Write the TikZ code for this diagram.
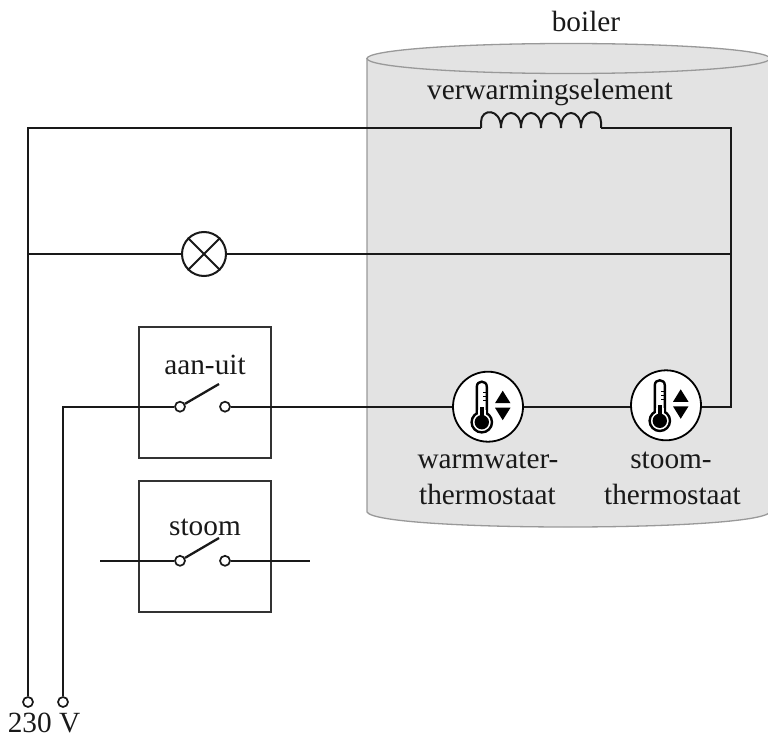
\documentclass[tikz,border=0pt]{standalone}
\usepackage{fontspec}
\setmainfont{Liberation Serif}
\tikzset{
  wire/.style={draw=black!90,line width=2.3pt,line join=miter},
  boilerbody/.style={draw=black!40,line width=1.3pt,fill=black!11},
  panel/.style={draw=black!80,line width=1.7pt,fill=none},
  terminal/.style={circle,draw=black!90,line width=1.7pt,fill=white,minimum size=10pt,inner sep=0pt},
  lampnode/.style={circle,draw=black!90,line width=2pt,fill=white,minimum size=44pt,inner sep=0pt},
  thermonode/.style={circle,draw=black,line width=1.8pt,fill=white,minimum size=70pt,inner sep=0pt},
  label/.style={font=\fontsize{29.3}{35}\selectfont,inner sep=0pt,align=center,text=black!90},
}
\begin{document}
\begin{tikzpicture}[x=1pt,y=-1pt]
\useasboundingbox (0,0) rectangle (768,738);
% boiler
\begin{scope}
\clip (0,0) rectangle (768,738);
\path[boilerbody] (367,58.5) -- (367,512) .. controls (372,522) and (470,527) .. (568,527) .. controls (666,527) and (764,522) .. (770,512) -- (770,58.5) -- cycle;
\path[boilerbody] (568.5,58.5) ellipse[x radius=201.5,y radius=15];
\end{scope}
% panels
\node[panel,minimum width=132pt,minimum height=131pt,inner sep=0pt] (boxA) at (205,392.5) {};
\node[panel,minimum width=132pt,minimum height=131pt,inner sep=0pt] (boxB) at (205,546.5) {};
% named points
\coordinate (tlc) at (28,128);
\coordinate (trc) at (731,128);
\coordinate (mlc) at (28,254);
\coordinate (mrc) at (731,254);
\coordinate (brc) at (731,406.7);
\coordinate (swc) at (63,406.7);
\coordinate (coilL) at (481,128);
\coordinate (coilR) at (601,128);
\coordinate (bladeA) at (219,384);
\coordinate (bladeB) at (219,538);
\coordinate (stoomL) at (100,560.8);
\coordinate (stoomR) at (310,560.8);
% nodes
\node[terminal] (supL) at (28,702) {};
\node[terminal] (supR) at (63,702) {};
\node[terminal] (a1) at (180,406.7) {};
\node[terminal] (a2) at (225,406.7) {};
\node[terminal] (b1) at (180,560.8) {};
\node[terminal] (b2) at (225,560.8) {};
\node[lampnode] (lamp) at (204,254) {};
\node[thermonode] (t1) at (488,406.7) {};
\node[thermonode] (t2) at (666,405.3) {};
% wires
\draw[wire] (supL) -- (tlc) -- (coilL);
\draw[wire] (coilR) -- (trc) -- (brc) -- (brc -| t2.east);
\draw[wire] (mlc) -- (lamp);
\draw[wire] (lamp) -- (mrc);
\draw[wire] (supR) -- (swc) -- (a1);
\draw[wire] (a2) -- (t1);
\draw[wire] (t1) -- (t1 -| t2.west);
\draw[wire] (stoomL) -- (b1);
\draw[wire] (b2) -- (stoomR);
\draw[wire] (a1) -- (bladeA);
\draw[wire] (b1) -- (bladeB);
% coil
\draw[wire,line width=2pt] (coilL) -- (481,122)
  .. controls (481,108) and (501,108) .. (501,128)
  .. controls (501,108) and (521,108) .. (521,128)
  .. controls (521,108) and (541,108) .. (541,128)
  .. controls (541,108) and (561,108) .. (561,128)
  .. controls (561,108) and (581,108) .. (581,128)
  .. controls (581,108) and (601,108) .. (601,122) -- (coilR);
% lamp cross
\draw[black!90,line width=1.9pt] (lamp.45) -- (lamp.225) (lamp.135) -- (lamp.315);
% thermostat icons
\foreach \n in {t1,t2}{
  \begin{scope}[shift={(\n.center)}]
    \draw[black,line width=2.4pt,fill=white] (-11.2,6) -- (-11.2,-20) .. controls (-11.2,-26.7) and (-1.2,-26.7) .. (-1.2,-20) -- (-1.2,6) -- cycle;
    \draw[black,line width=2.4pt,fill=white] (-6.2,15.5) circle[radius=10.2];
    \fill[white] (-10,3) rectangle (-2.4,9);
    \fill[black] (-6.2,15.5) circle[radius=7.2];
    \fill[black] (-8.4,0) rectangle (-4,10);
    \draw[black,line width=1.3pt] (-1.2,-14) -- (-5.4,-14) (-1.2,-10) -- (-5.4,-10) (-1.2,-6) -- (-5.4,-6);
    \fill[black] (14.7,-16) -- (22.5,-3.5) -- (7,-3.5) -- cycle;
    \fill[black] (14.7,13.5) -- (22.5,1) -- (7,1) -- cycle;
  \end{scope}
}
% labels
\node[label] (lblBoiler) at (586,21) {boiler};
\node[label] (lblCoil) at (550,92.5) {verwarmingselement};
\node[label] (lblA) at (205,365) {aan-uit};
\node[label] (lblB) at (205,527) {stoom};
\node[label] (lblW1) at (488,460) {warmwater-};
\node[label] (lblW2) at (487.5,494) {thermostaat};
\node[label] (lblS1) at (671,460) {stoom-};
\node[label] (lblS2) at (672.5,494) {thermostaat};
\node[label] (lblV) at (44,722.5) {230 V};
\end{tikzpicture}
\end{document}
